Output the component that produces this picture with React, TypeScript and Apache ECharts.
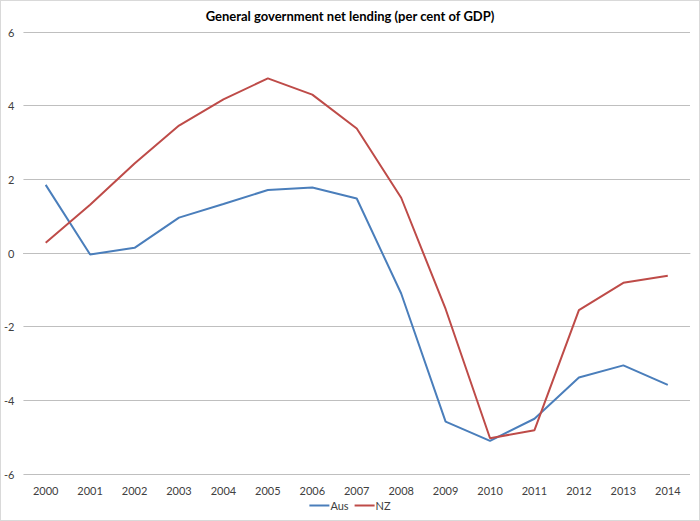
import * as React from "react";
import * as echarts from "echarts";

const YEARS = ["2000", "2001", "2002", "2003", "2004", "2005", "2006", "2007", "2008", "2009", "2010", "2011", "2012", "2013", "2014"];
const AUS = [1.85, -0.04, 0.14, 0.96, 1.33, 1.71, 1.78, 1.48, -1.1, -4.58, -5.1, -4.5, -3.38, -3.05, -3.58];
const NZ = [0.28, 1.31, 2.43, 3.46, 4.17, 4.74, 4.3, 3.38, 1.5, -1.52, -5.03, -4.81, -1.55, -0.81, -0.62];

const FONT = "Lato, 'Open Sans', sans-serif";
const GRID_COLOR = "#bfbfbf";

export default function App() {
  const ref = React.useRef<HTMLDivElement | null>(null);

  React.useEffect(() => {
    if (!ref.current) return;
    const chart = echarts.init(ref.current, undefined, { renderer: "svg" });
    chart.setOption({
      animation: false,
      backgroundColor: "#ffffff",
      textStyle: { fontFamily: FONT },
      title: {
        text: "General government net lending (per cent of GDP)",
        left: "center",
        top: 3,
        textStyle: { fontSize: 13, fontWeight: "bold", color: "#000", fontFamily: FONT },
      },
      grid: { left: 22, right: 9, top: 31, bottom: 46, containLabel: false },
      legend: {
        bottom: 4,
        left: "center",
        itemWidth: 20,
        itemHeight: 2,
        itemGap: 6,
        icon: "rect",
        textStyle: { fontSize: 11, color: "#404040", padding: [0, 0, 0, -4] },
        data: ["Aus", "NZ"],
      },
      xAxis: {
        type: "category",
        data: YEARS,
        boundaryGap: true,
        axisLine: { show: true, lineStyle: { color: GRID_COLOR } },
        axisTick: { show: false },
        axisLabel: { color: "#404040", fontSize: 11, margin: 11, interval: 0 },
      },
      yAxis: {
        type: "value",
        min: -6,
        max: 6,
        interval: 2,
        axisLine: { show: false },
        axisTick: { show: false },
        axisLabel: { color: "#404040", fontSize: 11, margin: 9 },
        splitLine: { lineStyle: { color: GRID_COLOR, width: 1 } },
      },
      series: [
        {
          name: "Aus",
          type: "line",
          data: AUS,
          symbol: "none",
          lineStyle: { color: "#4A7EBB", width: 2 },
          itemStyle: { color: "#4A7EBB" },
        },
        {
          name: "NZ",
          type: "line",
          data: NZ,
          symbol: "none",
          lineStyle: { color: "#BE4B48", width: 2 },
          itemStyle: { color: "#BE4B48" },
        },
      ],
    });
    return () => chart.dispose();
  }, []);

  return (
    <div
      style={{
        position: "fixed",
        left: 0,
        top: 0,
        width: 700,
        height: 521,
        boxSizing: "border-box",
        border: "1px solid #d9d9d9",
        background: "#fff",
      }}
    >
      <div ref={ref} style={{ width: 698, height: 519 }} />
    </div>
  );
}
